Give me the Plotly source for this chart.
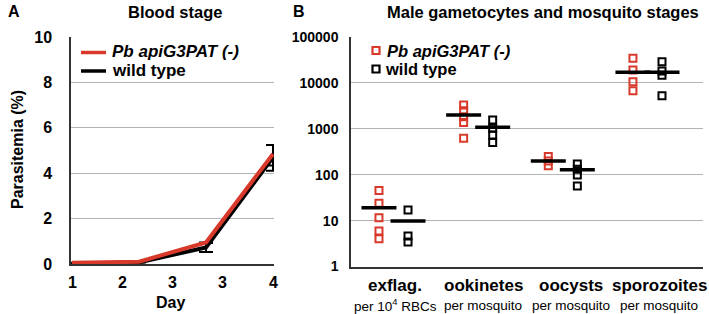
import plotly.graph_objects as go

# ---------------- data ----------------
days = [1, 2, 3, 4]
mut_parasitemia = [0.05, 0.10, 0.95, 4.85]
mut_err_plus = [0, 0, 0, 0.39]
mut_err_minus = [0, 0, 0, 0.51]
wt_parasitemia = [0.02, 0.07, 0.73, 4.70]
wt_err_plus = [0, 0, 0.19, 0.54]
wt_err_minus = [0, 0, 0.20, 0.59]
day_tickvals = [1, 1.75, 2.5, 3.25, 4]
day_ticktext = ["1", "2", "3", "3", "4"]
parasitemia_ticks = [0, 2, 4, 6, 8, 10]

stages = ["exflag.", "ookinetes", "oocysts", "sporozoites"]
stage_units = ["per 10<sup>4</sup> RBCs", "per mosquito", "per mosquito", "per mosquito"]
mut_points = [
    [45, 24, 11.6, 5.9, 4.0],
    [3300, 2470, 1830, 1380, 620],
    [250, 200, 157],
    [34400, 19100, 10600, 6760],
]
wt_points = [
    [17, 4.6, 3.4],
    [1550, 1025, 733, 500],
    [171, 131, 98, 57],
    [29000, 18200, 14700, 5270],
]
mut_means = [19, 2000, 200, 17000]
wt_means = [9.8, 1075, 128, 17000]
log_tickvals = [1, 10, 100, 1000, 10000, 100000]

MUT_NAME = "<i>Pb apiG3PAT (-)</i>"
WT_NAME = "wild type"

RED = "#d8392a"
BLACK = "#000000"
GRID = "#b4b4b4"
AXIS = "#333333"
FONT = "Liberation Sans, Arial, sans-serif"

W, H = 709, 314


def py(y):  # pixel-from-top -> paper coordinate
    return (H - y) / H


fig = go.Figure()

# ---------------- panel A ----------------
fig.add_trace(go.Scatter(
    x=days, y=wt_parasitemia, mode="lines", name=WT_NAME, showlegend=False,
    line=dict(color=BLACK, width=4),
    error_y=dict(type="data", array=wt_err_plus, arrayminus=wt_err_minus,
                 color=BLACK, thickness=2, width=7),
    xaxis="x", yaxis="y"))
fig.add_trace(go.Scatter(
    x=days, y=mut_parasitemia, mode="lines", name=MUT_NAME, showlegend=False,
    line=dict(color=RED, width=4),
    error_y=dict(type="data", array=mut_err_plus, arrayminus=mut_err_minus,
                 color=BLACK, thickness=2, width=7),
    xaxis="x", yaxis="y"))

# ---------------- panel B ----------------
cluster_start, cluster_step, off = 0.983, 0.962, 0.165
centers = [cluster_start + cluster_step * i for i in range(len(stages))]
for i in range(len(stages)):
    fig.add_trace(go.Scatter(
        x=[centers[i] - off] * len(mut_points[i]), y=mut_points[i], mode="markers", name=MUT_NAME,
        marker=dict(symbol="square-open", size=7, color=RED, line=dict(width=2, color=RED)),
        showlegend=False, xaxis="x2", yaxis="y2"))
    fig.add_trace(go.Scatter(
        x=[centers[i] + off] * len(wt_points[i]), y=wt_points[i], mode="markers", name=WT_NAME,
        marker=dict(symbol="square-open", size=7, color=BLACK, line=dict(width=2, color=BLACK)),
        showlegend=False, xaxis="x2", yaxis="y2"))

fig.add_trace(go.Scatter(
    x=[c - off for c in centers], y=mut_means, mode="markers",
    marker=dict(symbol="line-ew", size=25, line=dict(width=3.5, color=BLACK)),
    showlegend=False, xaxis="x2", yaxis="y2"))
fig.add_trace(go.Scatter(
    x=[c + off for c in centers], y=wt_means, mode="markers",
    marker=dict(symbol="line-ew", size=25, line=dict(width=3.5, color=BLACK)),
    showlegend=False, xaxis="x2", yaxis="y2"))

annotations = [
    dict(text="<b>A</b>", x=6 / W, y=py(12), xref="paper", yref="paper",
         showarrow=False, xanchor="left", yanchor="middle", font=dict(size=16)),
    dict(text="<b>Blood stage</b>", x=175 / W, y=py(12), xref="paper", yref="paper",
         showarrow=False, xanchor="center", yanchor="middle", font=dict(size=16.5)),
    dict(text="<b>B</b>", x=291 / W, y=py(12), xref="paper", yref="paper",
         showarrow=False, xanchor="left", yanchor="middle", font=dict(size=16)),
    dict(text="<b>Male gametocytes and mosquito stages</b>", x=543 / W, y=py(12),
         xref="paper", yref="paper",
         showarrow=False, xanchor="center", yanchor="middle", font=dict(size=16.5)),
    dict(text="<b>Parasitemia (%)</b>", x=17 / W, y=py(150), xref="paper", yref="paper",
         textangle=-90, showarrow=False, xanchor="center", yanchor="middle", font=dict(size=16)),
    dict(text="<b>Day</b>", x=170 / W, y=py(302), xref="paper", yref="paper",
         showarrow=False, xanchor="center", yanchor="middle", font=dict(size=16)),
    # legend texts
    dict(text=f"<b>{MUT_NAME}</b>", x=110 / W, y=py(52), xref="paper", yref="paper",
         showarrow=False, xanchor="left", yanchor="middle", font=dict(size=17)),
    dict(text=f"<b>{WT_NAME}</b>", x=110 / W, y=py(71), xref="paper", yref="paper",
         showarrow=False, xanchor="left", yanchor="middle", font=dict(size=17)),
    dict(text=f"<b>{MUT_NAME}</b>", x=385 / W, y=py(51), xref="paper", yref="paper",
         showarrow=False, xanchor="left", yanchor="middle", font=dict(size=16.5)),
    dict(text=f"<b>{WT_NAME}</b>", x=383 / W, y=py(69), xref="paper", yref="paper",
         showarrow=False, xanchor="left", yanchor="middle", font=dict(size=16.5)),
]
# panel A x tick labels (rounded day labels)
for v, t in zip(day_tickvals, day_ticktext):
    annotations.append(dict(text=f"<b>{t}</b>", x=v, y=py(282), xref="x", yref="paper",
                            showarrow=False, xanchor="center", yanchor="middle",
                            font=dict(size=16)))
# panel B category labels
for i, (s, u) in enumerate(zip(stages, stage_units)):
    annotations.append(dict(text=f"<b>{s}</b>", x=i + 1, y=py(285), xref="x2", yref="paper",
                            showarrow=False, xanchor="center", yanchor="middle",
                            font=dict(size=17)))
    annotations.append(dict(text=u, x=i + 1, y=py(305), xref="x2", yref="paper",
                            showarrow=False, xanchor="center", yanchor="middle",
                            font=dict(size=13.5)))

# legend symbols
shapes = [
    dict(type="line", xref="paper", yref="paper", x0=81 / W, x1=106 / W, y0=py(52.5), y1=py(52.5),
         line=dict(color=RED, width=3.5)),
    dict(type="line", xref="paper", yref="paper", x0=81 / W, x1=106 / W, y0=py(71), y1=py(71),
         line=dict(color=BLACK, width=3.5)),
    dict(type="rect", xref="paper", yref="paper", x0=372.5 / W, x1=379.5 / W, y0=py(54), y1=py(47),
         line=dict(color=RED, width=2.2)),
    dict(type="rect", xref="paper", yref="paper", x0=372.5 / W, x1=379.5 / W, y0=py(72.5), y1=py(65.5),
         line=dict(color=BLACK, width=2.2)),
]

fig.update_layout(
    width=W, height=H,
    margin=dict(l=0, r=0, t=0, b=0),
    paper_bgcolor="white", plot_bgcolor="white",
    font=dict(family=FONT, color="black", size=13),
    showlegend=False,
    xaxis=dict(domain=[71 / W, 274 / W], range=[0.985, 4.015], anchor="y",
               tickvals=day_tickvals, showticklabels=False, automargin=False,
               showgrid=False, showline=True, linecolor=AXIS, linewidth=1.5,
               ticks="", zeroline=False),
    yaxis=dict(domain=[py(264), py(37)], range=[0, 10], anchor="x",
               tickvals=parasitemia_ticks, automargin=False,
               showgrid=True, gridcolor=GRID, gridwidth=1,
               showline=True, linecolor=AXIS, linewidth=1.5, zeroline=False,
               ticks="", ticklabelstandoff=14,
               tickfont=dict(size=16, family=FONT, weight="bold")),
    xaxis2=dict(domain=[351 / W, 703 / W], range=[0.5, 4.5], anchor="y2",
                tickvals=[1, 2, 3, 4], showticklabels=False, automargin=False,
                showgrid=False, showline=True, linecolor=AXIS, linewidth=1.5,
                ticks="", zeroline=False),
    yaxis2=dict(domain=[py(266.5), py(37)], type="log", range=[0, 5], anchor="x2",
                tickvals=log_tickvals, ticktext=[str(v) for v in log_tickvals], automargin=False,
                showgrid=True, gridcolor=GRID, gridwidth=1,
                showline=True, linecolor=AXIS, linewidth=1.5, zeroline=False,
                ticks="", ticklabelstandoff=8,
                tickfont=dict(size=14, family=FONT, weight="bold")),
    annotations=annotations,
    shapes=shapes,
)

fig.write_html("out.html", config={"displayModeBar": False},
               post_script="document.body.style.margin='0';")
